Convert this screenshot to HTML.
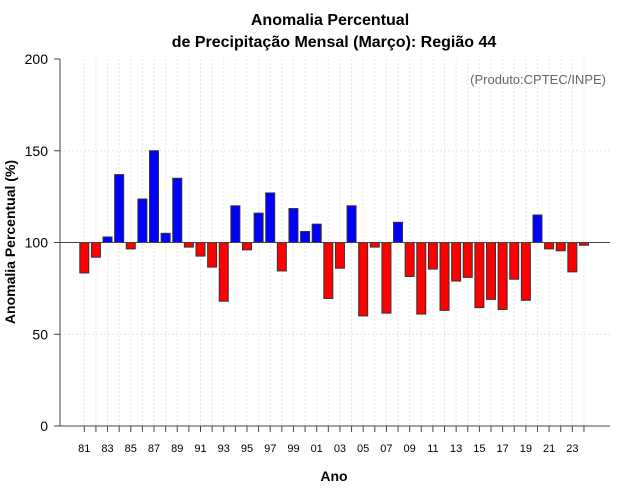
<!DOCTYPE html>
<html><head><meta charset="utf-8"><style>body{margin:0;background:#fff}svg{display:block;font-family:"Liberation Sans",sans-serif}</style></head>
<body>
<svg id="chart" width="640" height="500"></svg>
<script>
const years = ["81","82","83","84","85","86","87","88","89","90","91","92","93","94","95","96","97","98","99","00","01","02","03","04","05","06","07","08","09","10","11","12","13","14","15","16","17","18","19","20","21","22","23","24"];
const values = [83.4,92,103,137,96.5,123.7,150,105,135,97.5,92.6,86.6,68,120,96,116,127,84.5,118.5,106,110,69.5,86,120,60,97.5,61.5,111,81.5,61,85.5,63,79,81,64.5,69,63.5,80,68.5,115,96.5,95.5,84,98.5];
const yTicks = [0,50,100,150,200];
const baseline = 100;
const svg = document.getElementById('chart');
const NS = 'http://www.w3.org/2000/svg';
const x0=60,x1=610,yTop=59,yBot=426;
const yS = v => yBot - (v/200)*(yBot-yTop);
const xS = i => 84.3 + i*11.62;
function mk(t,a,txt){const e=document.createElementNS(NS,t);for(const k in a)e.setAttribute(k,a[k]);if(txt!==undefined)e.textContent=txt;svg.appendChild(e);return e;}
years.forEach((y,i)=>{const g=mk('line',{x1:xS(i),x2:xS(i),y1:yTop,y2:yBot,stroke:'#e6e6e6','stroke-dasharray':'2,2'});

});
yTicks.forEach(v=>{if(v>0&&v<200){const g=mk('line',{x1:x0,x2:x1,y1:yS(v),y2:yS(v),stroke:'#e6e6e6','stroke-dasharray':'2,2'});

}});
values.forEach((v,i)=>{const top=Math.min(yS(v),yS(baseline)),h=Math.abs(yS(v)-yS(baseline));
const b=mk('rect',{x:xS(i)-4.5,y:top,width:9,height:h,fill:v>=baseline?'#0000ff':'#ff0000',stroke:'#333','stroke-width':1});

});
const bl=mk('line',{x1:x0,x2:x1,y1:yS(baseline),y2:yS(baseline),stroke:'#444','stroke-width':1});


const ya=mk('line',{x1:x0,x2:x0,y1:yTop,y2:yBot,stroke:'#444'});


const xa=mk('line',{x1:x0,x2:x1,y1:yBot,y2:yBot,stroke:'#444'});


yTicks.forEach(v=>{mk('line',{x1:x0-6,x2:x0,y1:yS(v),y2:yS(v),stroke:'#444'});
const t=mk('text',{x:x0-12,y:yS(v)+5,'text-anchor':'end','font-size':14},String(v));

});
years.forEach((y,i)=>{mk('line',{x1:xS(i),x2:xS(i),y1:yBot,y2:yBot+6,stroke:'#444'});
if(i%2===0){const t=mk('text',{x:xS(i),y:yBot+26,'text-anchor':'middle','font-size':11},y);

}});
</script>
<svg style="position:absolute;left:0;top:0" width="640" height="500">
<text x="330" y="25" text-anchor="middle" font-size="16" font-weight="bold" font-family="Liberation Sans, sans-serif">Anomalia Percentual</text>
<text x="334" y="47" text-anchor="middle" font-size="16" font-weight="bold" font-family="Liberation Sans, sans-serif">de Precipitação Mensal (Março): Região 44</text>
<text x="606" y="84" text-anchor="end" font-size="13" fill="#666" font-family="Liberation Sans, sans-serif">(Produto:CPTEC/INPE)</text>
<text x="334" y="481" text-anchor="middle" font-size="14" font-weight="bold" font-family="Liberation Sans, sans-serif">Ano</text>
<text transform="translate(15,242) rotate(-90)" text-anchor="middle" font-size="14" font-weight="bold" font-family="Liberation Sans, sans-serif">Anomalia Percentual (%)</text>
</svg>
</body></html>
